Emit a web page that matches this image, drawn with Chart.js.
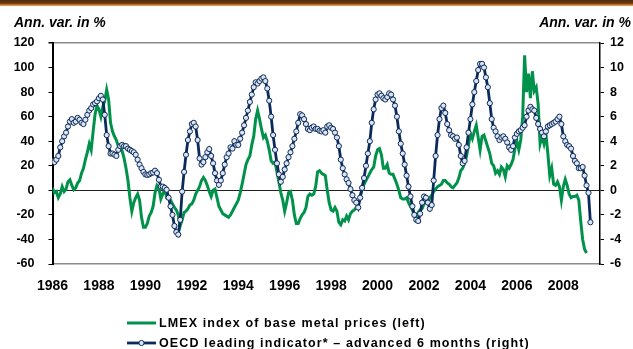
<!DOCTYPE html>
<html>
<head>
<meta charset="utf-8">
<script src="https://cdn.jsdelivr.net/npm/chart.js@4/dist/chart.umd.min.js"></script>
<style>
  html, body { margin: 0; padding: 0; background: #fff; }
  #wrap { position: relative; width: 633px; height: 349px; overflow: hidden; font-family: "Liberation Sans", Arial, sans-serif; }
  #band { position: absolute; left: 0; top: 0; width: 633px; height: 6px;
          background: linear-gradient(#4e2a0c 0, #6e3a10 55%, #c9782a 80%, #eab06a 100%); }
  .unit { position: absolute; top: 14px; font: italic bold 14px "Liberation Sans", Arial, sans-serif; color: #000; white-space: nowrap; }
  #unitL { left: 14px; }
  #unitR { right: 2px; }
  canvas { position: absolute; left: 0; top: 0; }
  .leg { position: absolute; left: 127px; font: bold 12.5px "Liberation Sans", Arial, sans-serif; letter-spacing: 1.1px;
         white-space: nowrap; color: #000; display: flex; align-items: center; height: 16px; }
  .leg svg { margin-right: 3px; flex: none; }
</style>
</head>
<body>
<div id="wrap">
  <div id="band"></div>
  <canvas id="c" width="633" height="349"></canvas>
  <div class="unit" id="unitL">Ann. var. in %</div>
  <div class="unit" id="unitR">Ann. var. in %</div>
  <div class="leg" style="top:315px">
    <svg width="29" height="10"><line x1="0" y1="5" x2="29" y2="5" stroke="#00924a" stroke-width="3"/></svg>
    <span>LMEX index of base metal prices (left)</span>
  </div>
  <div class="leg" style="top:335px">
    <svg width="29" height="10"><line x1="0" y1="5" x2="29" y2="5" stroke="#0b2a5b" stroke-width="2.8"/>
      <circle cx="14.5" cy="5" r="2.6" fill="#dde6f0" stroke="#0b2a5b" stroke-width="1"/></svg>
    <span>OECD leading indicator* – advanced 6 months (right)</span>
  </div>
</div>
<script>
// Monthly series, first value = January 1986
const START_YEAR = 1986;

// LMEX index of base metal prices, annual variation in % (left axis)
const lmexPct = [
  // 1986
  2, -2, -1, -6, -3, 3, -1, 1, 7, 8.6, 4, 0.5,
  // 1987
  2, 6, 8, 14, 18, 25, 31, 38, 33, 48, 62, 69,
  // 1988
  66, 60, 68, 73, 82, 74, 55, 48, 44, 41, 36, 36,
  // 1989
  32, 26, 18, 8, -6, -17, -10, -6, -3, -8, -22, -30,
  // 1990
  -30, -27, -21, -18, -13, -2, 4, 2, -7, -3, 1, -6,
  // 1991
  -6, -8, -11, -14, -16, -20, -29, -24, -18, -17, -15, -12,
  // 1992
  -11, -8, -3, 0, 3, 8, 10.5, 8, 4, -1, -5, 0,
  // 1993
  1, -6, -13, -16, -19, -20, -21, -22, -20, -17, -14, -11,
  // 1994
  -8, -2, 5, 13, 21, 25, 28, 37, 44, 58, 65, 58,
  // 1995
  50, 43, 45, 40, 33, 24, 22, 23, 15, 7, -2, -8,
  // 1996
  -17, -10, -2, -1, -8, -20, -27, -27, -23, -20, -18, -14,
  // 1997
  -5, -3, -4, -3, 3, 15, 16, 14, 13, 12, 0, -10,
  // 1998
  -16, -17, -14, -17, -26, -28, -24, -25, -21, -24, -19, -17,
  // 1999
  -16, -14, -12, -5, 1, 5, 8, 11, 14, 17, 19, 28,
  // 2000
  33, 34, 29, 18, 18, 21, 14, 13, 13, 9, 5, 0,
  // 2001
  -6, -7, -7, -6, -10, -13, -16, -20, -21, -18, -16, -15,
  // 2002
  -11, -9, -10, -6, -4, -1, 1, 3, 4, 5, 8, 8,
  // 2003
  6, 5, 3, 2, 4, 6, 10, 16, 18, 22, 28, 37,
  // 2004
  46, 42, 48, 53, 43, 33, 44, 45, 40, 35, 30, 22,
  // 2005
  20, 14, 16, 13, 19, 17, 11, 20, 18, 21, 25, 34,
  // 2006
  40, 33, 41, 60, 110, 80, 95, 75, 97, 81, 84, 70,
  // 2007
  38, 44, 38, 46, 30, 12, 18, 5, 4, 7, 3, -8,
  // 2008
  3, 9, 4, -3, -6, -5, -5, -4, -8, -25, -40, -48,
  // 2009
  -51
];

// OECD leading indicator advanced 6 months, annual variation in % (right axis)
const oecdPct = [
  // 1986
  2.4, 2.3, 2.5, 2.8, 3.5, 4.0, 4.4, 4.7, 5.2, 5.6, 5.8, 5.5,
  // 1987
  5.6, 5.9, 5.75, 5.5, 5.4, 5.75, 6.15, 6.5, 6.7, 7.0, 7.1, 7.25,
  // 1988
  7.5, 7.7, 7.4, 6.15, 4.5, 3.6, 3.0, 3.0, 2.9, 2.8, 3.3, 3.6,
  // 1989
  3.7, 3.6, 3.6, 3.4, 3.3, 3.2, 3.1, 2.9, 2.5, 2.1, 1.8, 1.5,
  // 1990
  1.3, 1.25, 1.3, 1.4, 1.45, 1.6, 1.4, 0.86, 0.3, 0.3, 0.2, 0.05,
  // 1991
  -0.6, -1.3, -2.0, -2.9, -3.4, -3.6, -2.4, -0.1, 1.5, 2.9, 4.1, 4.8,
  // 1992
  5.4, 5.5, 5.2, 4.1, 2.6, 2.1, 2.3, 2.7, 3.1, 3.36, 2.8, 2.2,
  // 1993
  1.4, 0.8, 0.45, 0.8, 1.4, 2.1, 2.7, 3.0, 3.5, 3.4, 4.0, 3.7,
  // 1994
  3.7, 4.2, 4.7, 5.3, 5.9, 6.5, 7.2, 7.8, 8.4, 8.8, 8.7, 8.9,
  // 1995
  9.1, 9.2, 8.9, 8.3, 7.3, 6.0, 4.5, 3.3, 2.2, 1.3, 0.7, 1.1,
  // 1996
  1.7, 2.2, 2.7, 3.1, 3.6, 4.2, 4.8, 5.5, 6.2, 6.1, 5.8, 5.4,
  // 1997
  5.0, 4.9, 5.1, 5.2, 5.0, 5.0, 4.85, 4.8, 4.9, 4.7, 5.2, 5.3,
  // 1998
  5.1, 5.0, 4.7, 4.3, 3.6, 2.5, 1.8, 1.3, 0.9, 0.6, 0.1, -0.4,
  // 1999
  -0.8, -1.0, -1.4, -0.6, 0.2, 1.0, 2.0, 3.0, 4.0, 5.5, 6.6, 7.4,
  // 2000
  7.8, 7.9, 7.7, 7.5, 7.4, 7.6, 7.9, 7.8, 7.4, 6.9, 6.0, 4.8,
  // 2001
  3.8, 3.0, 2.1, 1.2, 0.3, -0.5, -1.3, -2.0, -2.4, -2.5, -1.9, -1.0,
  // 2002
  -0.5, -0.6, -1.0, -1.5, -1.2, 0.8, 2.8, 4.5, 5.8, 6.7, 6.9, 6.3,
  // 2003
  5.4, 4.9, 4.5, 4.4, 4.2, 4.3, 3.7, 2.8, 2.2, 2.4, 3.5, 4.7,
  // 2004
  5.8, 7.0, 8.0, 8.9, 9.8, 10.3, 10.3, 10.0, 9.2, 8.4, 7.1, 5.8,
  // 2005
  5.1, 4.8, 4.4, 4.1, 4.3, 4.4, 4.2, 3.9, 3.5, 3.3, 3.6, 4.3,
  // 2006
  4.6, 4.8, 4.9, 5.1, 5.3, 6.0, 6.5, 6.8, 6.6, 6.5, 5.9, 5.4,
  // 2007
  5.0, 4.7, 4.4, 4.8, 5.2, 5.3, 5.4, 5.5, 5.6, 5.8, 6.0, 5.4,
  // 2008
  4.4, 4.0, 3.7, 3.6, 3.4, 2.8, 2.4, 2.2, 1.8, 1.8, 1.9, 1.2,
  // 2009
  0.4, -0.2, -2.6
];

// Year labels on the time axis
const yearTicks = [1986, 1988, 1990, 1992, 1994, 1996, 1998, 2000, 2002, 2004, 2006, 2008];

const NAVY = '#0b2a5b';
const GREEN = '#00924a';

const toPoints = arr => arr.map((v, i) => ({ x: START_YEAR + i / 12, y: v }));

Chart.defaults.font.family = '"Liberation Sans", Arial, sans-serif';
Chart.defaults.color = '#000';

new Chart(document.getElementById('c'), {
  type: 'line',
  data: {
    datasets: [
      {
        label: 'OECD leading indicator* – advanced 6 months (right)',
        data: toPoints(oecdPct),
        yAxisID: 'yR',
        borderColor: NAVY,
        borderWidth: 2.8,
        pointRadius: 2.6,
        pointBorderWidth: 1,
        pointBackgroundColor: '#dde6f0',
        pointBorderColor: NAVY,
        tension: 0
      },
      {
        label: 'LMEX index of base metal prices (left)',
        data: toPoints(lmexPct),
        yAxisID: 'yL',
        borderColor: GREEN,
        borderWidth: 3,
        pointRadius: 0,
        tension: 0
      }
    ]
  },
  options: {
    responsive: false,
    animation: false,
    devicePixelRatio: 1,
    layout: { padding: { top: 43, left: 0, right: 0, bottom: 0 } },
    plugins: { legend: { display: false }, tooltip: { enabled: false } },
    scales: {
      x: {
        type: 'linear',
        min: START_YEAR,
        max: 2009.58,
        afterBuildTicks: s => { s.ticks = yearTicks.map(v => ({ value: v })); },
        afterFit: s => { s.height = 85; },
        ticks: {
          autoSkip: false, maxRotation: 0, padding: 14,
          font: { size: 14, weight: 'bold' },
          callback: v => String(v)
        },
        grid: { display: false, drawTicks: false },
        border: { display: true, color: '#8a8a8a', width: 1.5 }
      },
      yL: {
        position: 'left',
        min: -60, max: 120,
        afterFit: s => { s.width = 52.5; },
        ticks: { stepSize: 20, padding: 14, font: { size: 12.5, weight: 'bold' } },
        grid: {
          drawTicks: true, tickLength: 4, tickColor: '#000',
          color: c => c.tick && c.tick.value === 0 ? '#222' : (c.tick && c.tick.value === 120 ? '#8a8a8a' : 'rgba(0,0,0,0)'),
          lineWidth: c => c.tick && c.tick.value === 120 ? 1.5 : 1
        },
        border: { color: '#000', width: 2 }
      },
      yR: {
        position: 'right',
        min: -6, max: 12,
        afterFit: s => { s.width = 33; },
        ticks: { stepSize: 2, padding: 6, font: { size: 12.5, weight: 'bold' } },
        grid: { drawOnChartArea: false, drawTicks: true, tickLength: 4, tickColor: '#000' },
        border: { color: '#000', width: 1.5 }
      }
    }
  }
});
</script>
</body>
</html>
